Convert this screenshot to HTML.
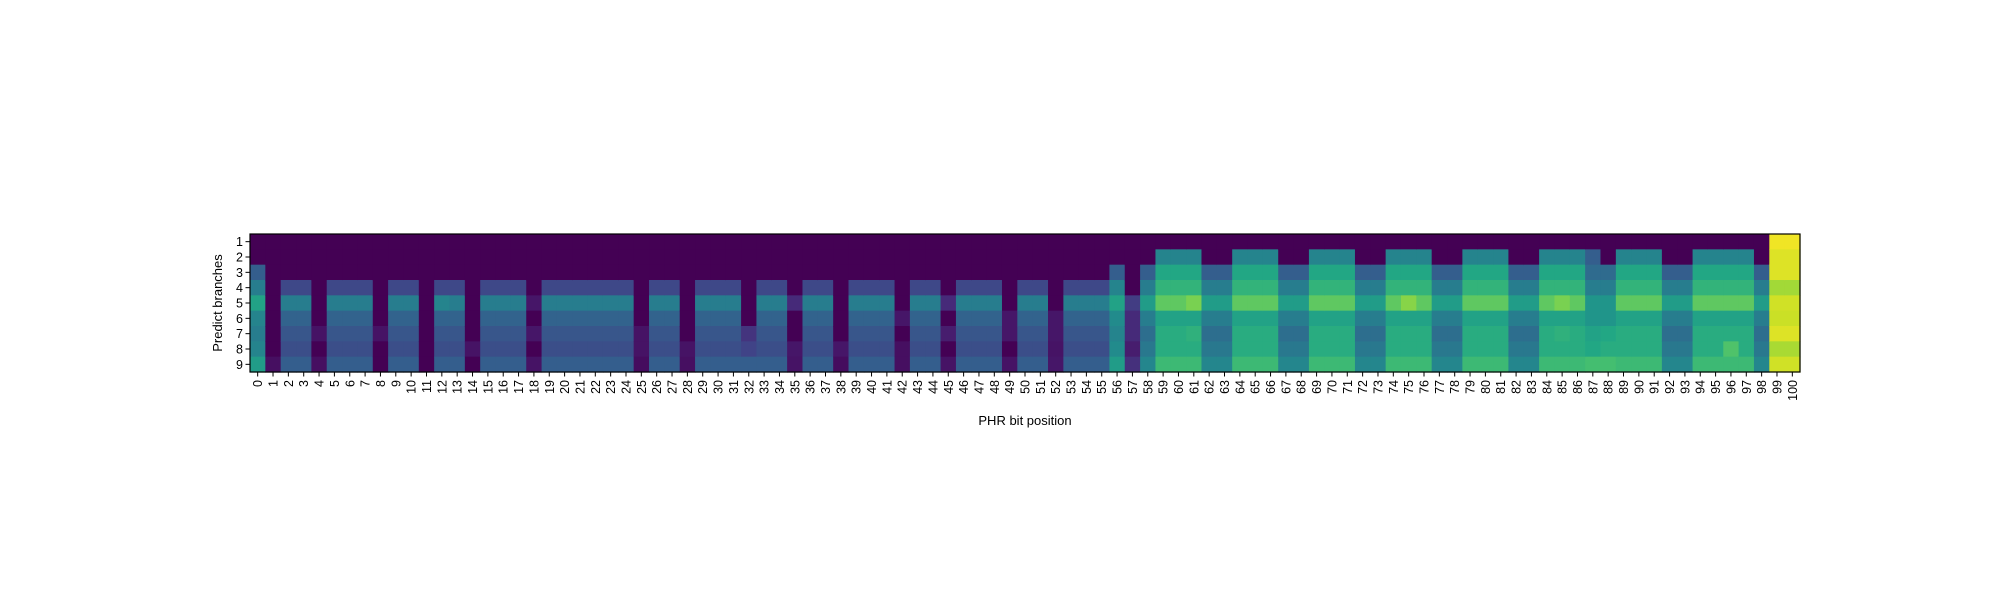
<!DOCTYPE html>
<html><head><meta charset="utf-8"><style>
body{margin:0;background:#fff;}
svg{display:block;font-family:"Liberation Sans","DejaVu Sans",sans-serif;}
</style></head><body>
<svg id="chart" width="2000" height="600" viewBox="0 0 2000 600" xmlns="http://www.w3.org/2000/svg">
<rect width="2000" height="600" fill="#fff"/>
<g id="cells"></g>
<g id="xticks"></g>
<g id="yticks"></g>
<rect id="frame" fill="none" stroke="#000" stroke-width="1.2"/>
<text x="1025" y="425" font-size="13" text-anchor="middle">PHR bit position</text>
<text transform="translate(222,303) rotate(-90)" font-size="13" text-anchor="middle">Predict branches</text>
</svg>
<script>
const xCategories = Array.from({length:101},(_,i)=>String(i));
const yCategories = ["1","2","3","4","5","6","7","8","9"];
const Z=[0,0,0,0,0,0,0,0,0];
const L=[0,0,0,0.22,0.42,0.32,0.27,0.24,0.3];
const H=[0,0.45,0.6,0.65,0.75,0.58,0.62,0.62,0.68];
const O=[0,0,0.3,0.42,0.55,0.42,0.36,0.4,0.46];
const Y=[0.98,0.95,0.95,0.86,0.93,0.92,0.95,0.87,0.93];
const columnValues = [
[0,0,0.3,0.42,0.58,0.45,0.42,0.45,0.55],
[0,0,0,0,0,0,0,0,0.04], L, L,
[0,0,0,0,0,0,0.05,0,0.04], L, L, L,
[0,0,0,0,0,0,0.05,0,0], L, L, Z,
[0,0,0,0.22,0.45,0.32,0.27,0.24,0.3], L,
[0,0,0,0,0,0,0,0.05,0], L, L, L,
[0,0,0,0,0.06,0,0.06,0,0.05], L, L, L, L, L, L,
[0,0,0,0,0,0,0.05,0.05,0.03], L, L,
[0,0,0,0,0,0,0,0.05,0.04], L, L, L,
[0,0,0,0,0,0,0.15,0.2,0.3], L, L,
[0,0,0,0,0.12,0,0,0.06,0.05], L, L,
[0,0,0,0,0,0,0,0.06,0.03], L, L, L,
[0,0,0,0,0,0.06,0,0.04,0.04], L, L,
[0,0,0,0,0.12,0,0.08,0,0.05], L, L, L,
[0,0,0,0,0,0.06,0.06,0,0.05], L, L,
[0,0,0,0,0,0.06,0.06,0.05,0.06], L, L, L,
[0,0,0.3,0.45,0.58,0.48,0.45,0.48,0.55],
[0,0,0,0,0.18,0.12,0.12,0.08,0.14],
O, H, H, [0,0.45,0.6,0.65,0.8,0.58,0.64,0.62,0.68], O, O,
H, H, H, O, O, H, H, H, O, O,
H, [0,0.45,0.6,0.65,0.82,0.58,0.62,0.62,0.68], H, O, O,
H, H, H, O, O,
H, [0,0.45,0.6,0.65,0.8,0.58,0.64,0.62,0.68], H,
[0,0.3,0.35,0.42,0.52,0.52,0.58,0.6,0.7],
[0,0,0.35,0.42,0.52,0.52,0.6,0.62,0.7],
H, H, H, O, O,
H, H, [0,0.45,0.6,0.65,0.75,0.58,0.62,0.72,0.68], H, O, Y, Y
];
const plot={left:250,top:234,right:1800,bottom:372};
const cw=(plot.right-plot.left)/xCategories.length, ch=(plot.bottom-plot.top)/yCategories.length;
const xPos=i=>plot.left+i*cw, yPos=j=>plot.top+j*ch;
const stops=[[0,68,1,84],[0.1,72,36,117],[0.2,64,67,135],[0.3,52,94,141],[0.4,41,120,142],[0.5,32,144,140],[0.6,34,167,132],[0.7,68,190,112],[0.8,121,209,81],[0.9,189,222,38],[1,253,231,37]];
function viridis(v){v=Math.max(0,Math.min(1,v));for(let k=1;k<stops.length;k++){if(v<=stops[k][0]){const a=stops[k-1],b=stops[k],t=(v-a[0])/(b[0]-a[0]);return `rgb(${Math.round(a[1]+t*(b[1]-a[1]))},${Math.round(a[2]+t*(b[2]-a[2]))},${Math.round(a[3]+t*(b[3]-a[3]))})`;}}return "rgb(253,231,37)";}
const NS="http://www.w3.org/2000/svg";
const cells=document.getElementById('cells');
columnValues.forEach((col,i)=>col.forEach((v,j)=>{
const r=document.createElementNS(NS,'rect');
r.setAttribute('x',xPos(i));r.setAttribute('y',yPos(j));
r.setAttribute('width',cw+0.6);r.setAttribute('height',ch+0.6);
r.setAttribute('fill',viridis(v));


cells.appendChild(r);}));
const fr=document.getElementById('frame');
fr.setAttribute('x',plot.left);fr.setAttribute('y',plot.top);fr.setAttribute('width',plot.right-plot.left);fr.setAttribute('height',plot.bottom-plot.top);
const xt=document.getElementById('xticks');
xCategories.forEach((c,i)=>{
const x=xPos(i)+cw/2;
const l=document.createElementNS(NS,'line');
l.setAttribute('x1',x);l.setAttribute('x2',x);l.setAttribute('y1',plot.bottom);l.setAttribute('y2',plot.bottom+4.5);l.setAttribute('stroke','#000');l.setAttribute('stroke-width','1');


xt.appendChild(l);
const t=document.createElementNS(NS,'text');
t.setAttribute('transform',`translate(${x+4.5},${plot.bottom+8}) rotate(-90)`);
t.setAttribute('text-anchor','end');t.setAttribute('font-size','12.5');t.textContent=c;


xt.appendChild(t);});
const yt=document.getElementById('yticks');
yCategories.forEach((c,j)=>{
const y=yPos(j)+ch/2;
const l=document.createElementNS(NS,'line');
l.setAttribute('x1',plot.left-4.5);l.setAttribute('x2',plot.left);l.setAttribute('y1',y);l.setAttribute('y2',y);l.setAttribute('stroke','#000');l.setAttribute('stroke-width','1');


yt.appendChild(l);
const t=document.createElementNS(NS,'text');
t.setAttribute('x',plot.left-7);t.setAttribute('y',y+4.5);t.setAttribute('text-anchor','end');t.setAttribute('font-size','12.5');t.textContent=c;


yt.appendChild(t);});
</script>
</body></html>
